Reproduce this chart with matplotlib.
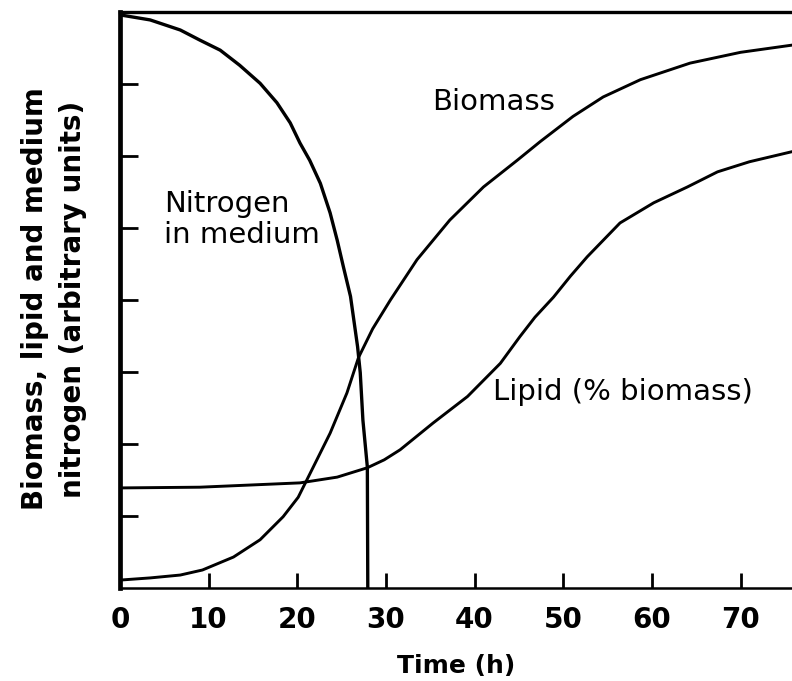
import matplotlib.pyplot as plt

# values (arbitrary units, time in h)
nitro_t = [0, 3.4, 6.8, 9.0, 11.3, 13.5, 15.8, 17.7, 19.2, 20.3, 21.4, 22.6, 23.7,
           24.5, 25.2, 26.0, 26.4, 26.8, 27.1, 27.4, 27.9, 27.95]
nitro_y = [7.96, 7.89, 7.75, 7.61, 7.47, 7.26, 7.01, 6.74, 6.46, 6.18, 5.94, 5.62, 5.21,
           4.83, 4.46, 4.05, 3.70, 3.35, 2.99, 2.33, 1.68, 0.0]

bio_t = [0, 3.4, 6.8, 9.3, 12.8, 15.8, 18.4, 20.1, 21.8, 23.7, 25.6, 26.9, 28.5, 30.5,
         33.5, 37.2, 41.0, 44.8, 47.4, 51.1, 54.5, 58.7, 64.3, 70.0, 75.8]
bio_y = [0.11, 0.14, 0.18, 0.25, 0.43, 0.67, 0.99, 1.26, 1.68, 2.15, 2.71, 3.2, 3.6, 4.0,
         4.56, 5.11, 5.57, 5.94, 6.2, 6.55, 6.82, 7.06, 7.29, 7.44, 7.54]

lip_t = [0, 9, 20.3, 24.5, 27.9, 29.8, 31.6, 35.3, 39.2, 42.9, 45.1, 46.8, 48.9, 50.8,
         52.7, 56.4, 60.2, 64.0, 67.4, 71.0, 75.8]
lip_y = [1.39, 1.40, 1.46, 1.54, 1.67, 1.78, 1.92, 2.29, 2.66, 3.12, 3.49, 3.76, 4.04, 4.33,
         4.60, 5.07, 5.35, 5.57, 5.78, 5.92, 6.06]

xticks = [0, 10, 20, 30, 40, 50, 60, 70]

fig = plt.figure(figsize=(7.92, 6.81), dpi=100)
ax = fig.add_axes([120 / 792, 93 / 681, 672 / 792, 576 / 681])

ax.plot(nitro_t, nitro_y, color="black", lw=2.4, solid_capstyle="butt")
ax.plot(bio_t, bio_y, color="black", lw=2.1)
ax.plot(lip_t, lip_y, color="black", lw=2.1)

ax.set_xlim(0, 75.8)
ax.set_ylim(0, 8)

ax.spines["right"].set_visible(False)
ax.spines["left"].set_linewidth(3.4)
ax.spines["top"].set_linewidth(2.4)
ax.spines["bottom"].set_linewidth(1.8)

ax.set_xticks(xticks)
ax.set_xticklabels([str(v) for v in xticks], fontsize=20, fontweight="bold")
ax.set_yticks([1, 2, 3, 4, 5, 6, 7])
ax.set_yticklabels([])
ax.tick_params(axis="y", direction="in", length=13, width=2.0, colors="black")
ax.tick_params(axis="x", direction="in", length=11, width=2.0, colors="black", pad=13)

ax.set_xlabel("Time (h)", fontsize=18, fontweight="bold", labelpad=14)
fig.text(0.068, 0.561, "Biomass, lipid and medium\nnitrogen (arbitrary units)",
         rotation=90, ha="center", va="center", fontsize=20, fontweight="bold",
         linespacing=1.45)

ax.text(5.0, 5.12, "Nitrogen\nin medium", fontsize=21, ha="left", va="center",
        linespacing=1.15)
ax.text(35.2, 6.75, "Biomass", fontsize=21, ha="left", va="center")
ax.text(42.1, 2.72, "Lipid (% biomass)", fontsize=21, ha="left", va="center")

fig.savefig("out.png", dpi=100)
